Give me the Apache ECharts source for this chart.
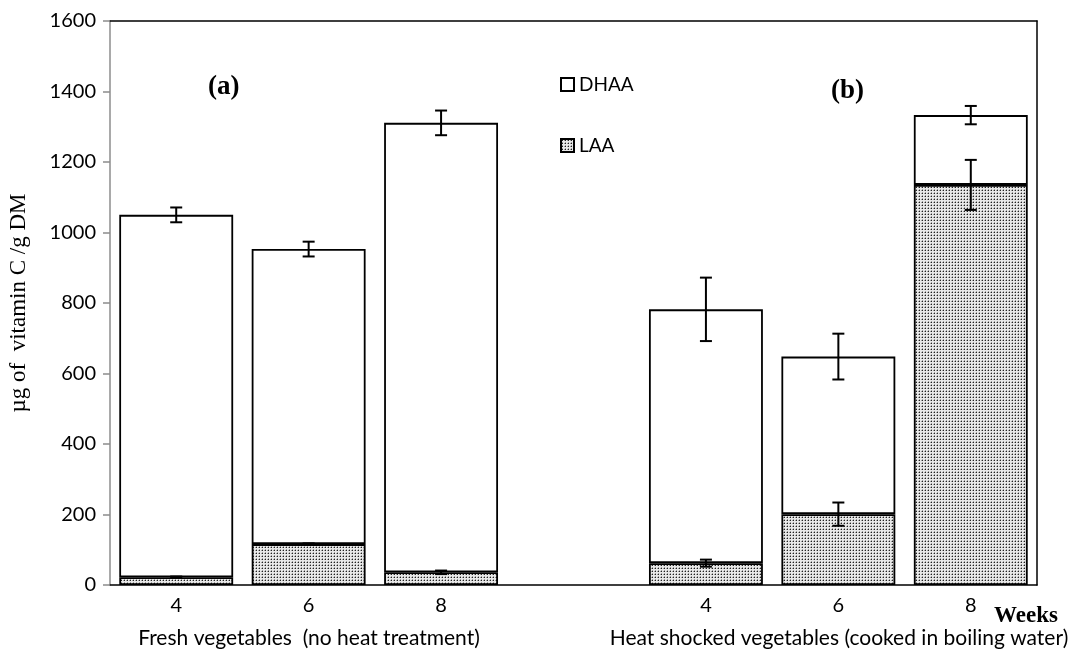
<!DOCTYPE html>
<html>
<head>
<meta charset="utf-8">
<script src="https://cdn.jsdelivr.net/npm/echarts@6/dist/echarts.min.js"></script>
<style>html,body{margin:0;padding:0;background:#fff}#c{width:1088px;height:654px}</style>
</head>
<body>
<div id="c"></div>
<script>
var categories = ['4', '6', '8', '', '4', '6', '8'];
var laa = [22, 116, 36, '-', 62, 201, 1135];
var dhaa = [1028, 837, 1275, '-', 720, 447, 198];
var laaErr = [2, 2, 5, '-', 10, 33, 71];
var totalErr = [21, 21, 35, '-', 90, 65, 26];
var yTicks = {min: 0, max: 1600, interval: 200};

var pc = document.createElement('canvas');
pc.width = 3; pc.height = 3;
var g = pc.getContext('2d');
g.fillStyle = '#e8e8e8'; g.fillRect(0, 0, 3, 3);
g.fillStyle = '#a0a0a0'; g.fillRect(1, 0, 1, 1); g.fillRect(0, 1, 1, 1);
g.fillStyle = '#222222'; g.fillRect(1, 1, 1, 1);
var pattern = {image: pc, repeat: 'repeat'};

var errData = [];
for (var i = 0; i < categories.length; i++) {
  if (laa[i] === '-') continue;
  errData.push([i, laa[i], laaErr[i]]);
  errData.push([i, laa[i] + dhaa[i], totalErr[i]]);
}

var chart = echarts.init(document.getElementById('c'));
var lab = {fontFamily: 'Lato', fontSize: 20, color: '#000'};
chart.setOption({
  animation: false,
  grid: {left: 110, right: 51, top: 21, bottom: 69, containLabel: false, outerBoundsMode: 'none'},
  legend: {
    orient: 'vertical', left: 555, top: 70, itemGap: 42,
    itemWidth: 13, itemHeight: 13, icon: 'rect',
    textStyle: {fontFamily: 'Lato', fontSize: 19, color: '#000'},
    data: ['DHAA', 'LAA']
  },
  xAxis: [{
    type: 'category', data: categories,
    axisLine: {onZero: false, lineStyle: {color: '#000', width: 1.5}},
    axisTick: {show: false},
    axisLabel: Object.assign({margin: 11}, lab)
  }, {
    type: 'category', data: categories, position: 'top',
    axisLine: {onZero: false, lineStyle: {color: '#000', width: 1.5}},
    axisTick: {show: false}, axisLabel: {show: false}
  }],
  yAxis: [{
    type: 'value', min: yTicks.min, max: yTicks.max, interval: yTicks.interval,
    name: 'µg of  vitamin C /g DM', nameLocation: 'middle', nameGap: 80, nameRotate: 90,
    nameTextStyle: {fontFamily: 'Liberation Serif', fontSize: 23, color: '#000'},
    axisLine: {show: true, onZero: false, lineStyle: {color: '#8c8c8c', width: 1.5}},
    axisTick: {show: true, length: 7, lineStyle: {color: '#8c8c8c', width: 1.5}},
    axisLabel: Object.assign({margin: 14, formatter: function (v) { return String(v); }}, lab),
    splitLine: {show: false}
  }, {
    type: 'value', min: yTicks.min, max: yTicks.max, interval: yTicks.interval, position: 'right',
    axisLine: {show: true, onZero: false, lineStyle: {color: '#000', width: 1.5}},
    axisTick: {show: false}, axisLabel: {show: false}, splitLine: {show: false}
  }],
  series: [{
    name: 'LAA', type: 'bar', stack: 'v', data: laa, barCategoryGap: '14%',
    itemStyle: {color: pattern, borderColor: '#000', borderWidth: 1.8}
  }, {
    name: 'DHAA', type: 'bar', stack: 'v', data: dhaa, barCategoryGap: '14%',
    itemStyle: {color: '#fff', borderColor: '#000', borderWidth: 1.8}
  }, {
    type: 'custom', data: errData, z: 10,
    renderItem: function (params, api) {
      var x = api.value(0), c = api.value(1), e = api.value(2);
      var hi = api.coord([x, c + e]), lo = api.coord([x, c - e]);
      var w = 6;
      var st = {stroke: '#000', lineWidth: 2};
      return {type: 'group', children: [
        {type: 'line', shape: {x1: hi[0], y1: hi[1], x2: lo[0], y2: lo[1]}, style: st},
        {type: 'line', shape: {x1: hi[0] - w, y1: hi[1], x2: hi[0] + w, y2: hi[1]}, style: st},
        {type: 'line', shape: {x1: lo[0] - w, y1: lo[1], x2: lo[0] + w, y2: lo[1]}, style: st}
      ]};
    }
  }],
  graphic: [
    {type: 'text', left: 208, top: 74, style: {text: '(a)', font: 'bold 27px "Liberation Serif"', fill: '#000'}},
    {type: 'text', left: 831, top: 78, style: {text: '(b)', font: 'bold 27px "Liberation Serif"', fill: '#000'}},
    {type: 'text', left: 994, top: 605, style: {text: 'Weeks', font: 'bold 23px "Liberation Serif"', fill: '#000'}},
    {type: 'text', x: 309, y: 638, style: {text: 'Fresh vegetables  (no heat treatment)', font: '21px Lato', fill: '#000', align: 'center', verticalAlign: 'middle'}},
    {type: 'text', x: 839, y: 638, style: {text: 'Heat shocked vegetables (cooked in boiling water)', font: '21px Lato', fill: '#000', align: 'center', verticalAlign: 'middle'}}
  ]
});
</script>
</body>
</html>
